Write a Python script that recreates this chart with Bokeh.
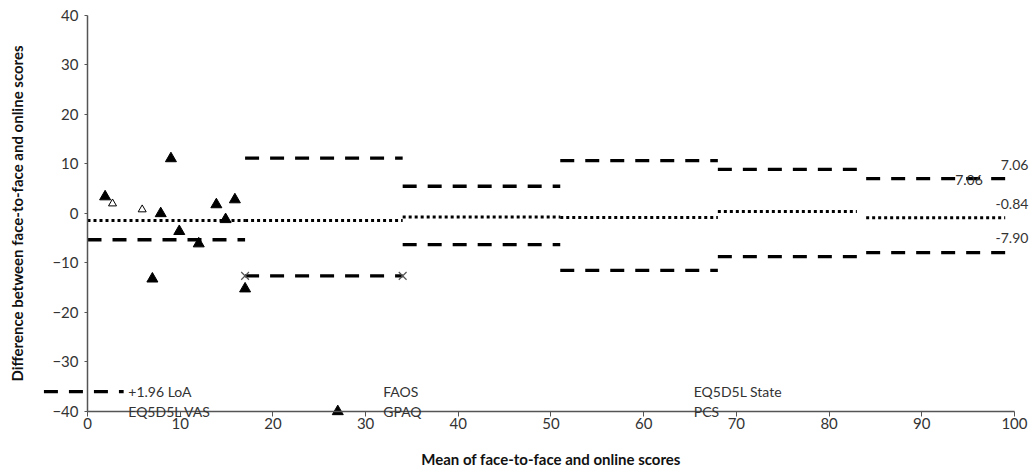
from bokeh.plotting import figure
from bokeh.models import Range1d, Label, FixedTicker
from bokeh.embed import file_html
from bokeh.resources import INLINE

# ---- data ----
seg_start = [0, 17, 34, 51, 68, 84]
seg_end = [17, 34, 51, 68, 83, 99]
upper_loa = [None, 11.2, 5.5, 10.7, 8.9, 7.06]
mean_diff = [-1.4, -1.4, -0.7, -0.8, 0.4, -0.84]
lower_loa = [-5.3, -12.6, -6.3, -11.5, -8.7, -7.90]

tri_x = [1.9, 7.9, 9.0, 9.9, 12.0, 13.9, 14.9, 15.9, 7.0, 17.0]
tri_y = [3.4, 0.0, 11.1, -3.6, -6.1, 1.8, -1.2, 2.8, -13.2, -15.2]
faint_x = [2.7, 5.9]
faint_y = [2.0, 0.8]
cross_x = [17, 34]
cross_y = [-12.6, -12.6]

x_ticks = [0, 10, 20, 30, 40, 50, 60, 70, 80, 90, 100]
y_ticks = [-40, -30, -20, -10, 0, 10, 20, 30, 40]

end_labels = ["7.06", "-0.84", "-7.90"]
end_label_y = [9.7, 2.0, -5.0]
mid_label = "7.06"
mid_label_y = 6.8

legend_text = ["+1.96 LoA", "EQ5D5L VAS", "FAOS", "GPAQ", "EQ5D5L State", "PCS"]
legend_x = [4.4, 4.4, 31.9, 31.9, 65.4, 65.4]
legend_y = [-36, -40, -36, -40, -36, -40]

FONT = "Lato"

p = figure(width=1034, height=474, output_backend="svg", toolbar_location=None,
           x_range=Range1d(-9.385, 102.16), y_range=Range1d(-52.73, 43.03),
           min_border_left=0, min_border_right=0, min_border_top=0,
           min_border_bottom=0)
p.outline_line_color = None
p.grid.visible = False
p.background_fill_color = "white"

# LoA segments
ux0 = [s for s, u in zip(seg_start, upper_loa) if u is not None]
ux1 = [e for e, u in zip(seg_end, upper_loa) if u is not None]
uy = [u for u in upper_loa if u is not None]
p.segment(ux0, uy, ux1, uy, line_color="black", line_width=3.3, line_dash="14 11")
p.segment(seg_start, lower_loa, seg_end, lower_loa, line_color="black",
          line_width=3.3, line_dash="14 11")
p.segment(seg_start, mean_diff, seg_end, mean_diff, line_color="black",
          line_width=3, line_dash="3 3")

# points
p.scatter(tri_x, tri_y, marker="triangle", size=11, color="black")
p.scatter(faint_x, faint_y, marker="triangle", size=8, fill_color="white",
          line_color="black", line_width=1)
p.scatter(cross_x, cross_y, marker="x", size=11, line_color="#555555", line_width=1.2)

# legend samples
p.scatter([27], [-40], marker="triangle", size=11, color="black")
p.segment([-4.7], [-36], [3.9], [-36], line_color="black", line_width=3.3,
          line_dash="14 11")

for txt, lx, ly in zip(legend_text, legend_x, legend_y):
    p.add_layout(Label(x=lx, y=ly, text=txt, text_font=FONT, text_font_size="14px",
                       text_color="#333333", text_baseline="middle", text_align="left"))

for txt, ly in zip(end_labels, end_label_y):
    p.add_layout(Label(x=101.5, y=ly, text=txt, text_font=FONT, text_font_size="14px",
                       text_color="#333333", text_baseline="middle", text_align="right"))
p.add_layout(Label(x=93.6, y=mid_label_y, text=mid_label, text_font=FONT,
                   text_font_size="14px", text_color="#333333",
                   text_baseline="middle", text_align="left"))

# axes
p.xaxis.ticker = FixedTicker(ticks=x_ticks)
p.yaxis.ticker = FixedTicker(ticks=y_ticks)
p.xaxis.bounds = (0, 100)
p.yaxis.bounds = (-40, 40)
p.xaxis.fixed_location = -40
p.yaxis.fixed_location = 0
for ax in (p.xaxis[0], p.yaxis[0]):
    ax.axis_line_color = "#555555"
    ax.axis_line_width = 1.5
    ax.major_tick_line_color = "#555555"
    ax.major_tick_in = 0
    ax.minor_tick_line_color = None
    ax.major_label_text_font = FONT
    ax.major_label_text_font_size = "15px"
    ax.major_label_text_color = "#333333"
    ax.axis_label_text_font = FONT
    ax.axis_label_text_font_size = "15px"
    ax.axis_label_text_font_style = "bold"
    ax.axis_label_text_color = "#111111"
p.xaxis.major_tick_out = 5
p.xaxis.major_label_standoff = 2
p.xaxis.axis_label = "Mean of face-to-face and online scores"
p.xaxis.axis_label_standoff = 17
p.yaxis.major_tick_out = 3
p.yaxis.major_label_standoff = 6
p.yaxis.axis_label = "Difference between face-to-face and online scores"
p.yaxis.axis_label_standoff = 23

open("out.html", "w").write(file_html(p, INLINE))
